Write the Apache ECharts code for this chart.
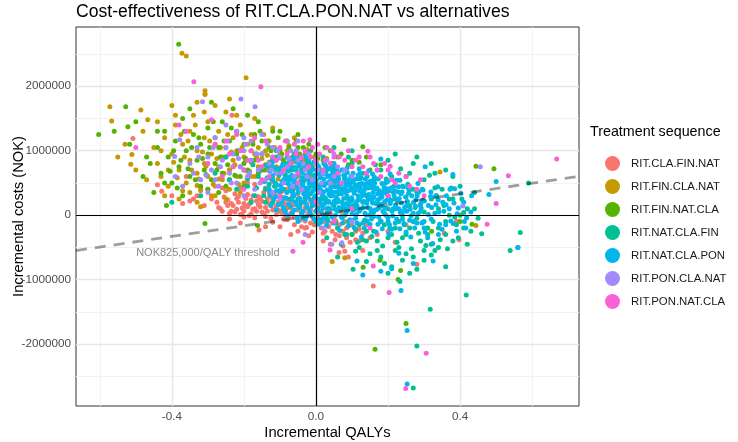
<!DOCTYPE html>
<html><head><meta charset="utf-8">
<script src="https://cdn.jsdelivr.net/npm/echarts@6/dist/echarts.min.js"></script>
<style>html,body{margin:0;padding:0;background:#fff}#c{width:738px;height:442px}</style>
</head><body><div id="c"></div>
<script>
// ---- data (x = incremental QALYs, y = incremental costs in thousand NOK) ----
const seriesNames = ['RIT.CLA.FIN.NAT','RIT.FIN.CLA.NAT','RIT.FIN.NAT.CLA','RIT.NAT.CLA.FIN','RIT.NAT.CLA.PON','RIT.PON.CLA.NAT','RIT.PON.NAT.CLA'];
const seriesColors = ['#F8766D','#C49A00','#53B400','#00C094','#00B6EB','#A58AFF','#FB61D7'];

const ptsCLAFINNAT = [[-0.27,120],[-0.26,60],[-0.25,200],[-0.24,30],[-0.23,150],[-0.22,90],[-0.22,260],[-0.21,10],[-0.2,180],[-0.2,70],[-0.19,320],[-0.19,130],[-0.18,20],[-0.18,230],[-0.17,100],[-0.17,-40],[-0.16,160],[-0.16,290],[-0.15,50],[-0.15,210],[-0.14,120],[-0.14,-20],[-0.13,360],[-0.13,180],[-0.12,80],[-0.12,250],[-0.11,10],[-0.11,140],[-0.1,300],[-0.1,60],[-0.09,200],[-0.09,-60],[-0.08,110],[-0.08,400],[-0.07,30],[-0.07,240],[-0.06,160],[-0.06,-30],[-0.05,80],[-0.05,330],[-0.04,0],[-0.04,190],[-0.03,120],[-0.03,-90],[-0.02,50],[-0.02,260],[-0.01,-20],[-0.01,150],[0,70],[0,-120],[0.01,20],[0.01,200],[0.02,-60],[0.03,100],[0.03,-150],[0.04,30],[0.05,-40],[0.06,-200],[0.07,60],[0.08,-100],
[-0.3,400],[-0.28,450],[-0.25,380],[-0.21,430],[-0.17,480],[-0.14,420],[-0.11,460],[-0.06,420],[-0.33,300],[-0.35,220],[-0.31,150],[-0.29,250],
[-0.2,-30],[-0.158,-230],[-0.12,-110],[-0.1,-180],[-0.08,-70],[-0.06,-150],[-0.05,-250],[-0.03,-200],[-0.026,-190],[0.02,-280],[0.053,-380],[0.075,-480],[0.08,-560],[0.064,-580],[0.1,-300],[0.12,-220],[0.14,-150],[0.15,-350],[0.18,-100],[0.2,-250],[0.28,-760],[0.159,-1100],[0.356,-280],[0.397,-380],[0.39,-90],
[-0.508,1190],[-0.44,470],[-0.428,370],[-0.308,1870],[-0.233,1550],[-0.36,600],[-0.4,300],[-0.24,700],[-0.18,600],
[-0.275,200],[-0.265,100],[-0.255,280],[-0.245,150],[-0.235,60],[-0.225,330],[-0.215,200],[-0.205,110],[-0.195,260],[-0.185,-10],[-0.185,170],[-0.175,300],[-0.165,60],[-0.165,220],[-0.155,130],[-0.145,350],[-0.145,20],[-0.135,250],[-0.125,150],[-0.125,-50],[-0.115,320],[-0.115,90],[-0.105,200],[-0.095,40],[-0.095,370],[-0.085,160],[-0.085,270],[-0.075,-20],[-0.075,120],[-0.065,300],[-0.065,60],[-0.055,200],[-0.045,-80],[-0.045,260],[-0.035,60],[-0.035,380],[-0.025,170],[-0.015,-120],[-0.015,90],[-0.005,250],[0.005,-50],[0.005,130],[0.015,-200],[0.015,60],[0.025,-100],[0.035,20],[0.045,-250],[0.055,-90],[0.065,-320],[0.085,-200],[0.095,-420],[0.11,-380],[0.13,-280],[0.17,-300],[0.22,-420],[0.25,-150],[-0.32,380],[-0.34,250],[-0.37,180],[-0.26,420],[-0.19,500],[-0.12,520],[-0.24,-60],[-0.21,-120],[-0.14,-180],[-0.07,-300],[-0.02,-320],[0.04,-450],[0.09,-650],[0.13,-550],
[-0.245,240],[-0.235,180],[-0.225,50],[-0.215,290],[-0.205,10],[-0.195,140],[-0.175,90],[-0.155,260],[-0.135,60],[-0.125,290],[-0.105,80],[-0.095,170],[-0.085,0],[-0.075,220],[-0.065,170],[-0.055,-40],[-0.045,120],[-0.035,200],[-0.025,-10],[-0.015,240],[-0.005,-150],[0.005,40],[0.015,-90],[0.025,-250],[0.035,-180],[0.045,-120],[0.055,-300],[0.065,-150],[0.075,-250],[0.085,-350],[0.1,-150],[0.11,-250],[0.12,-400],[-0.04,-180],[-0.01,-260],[0.02,-400]];

const ptsFINCLANAT = [[-0.372,2510],[-0.36,2470],[-0.194,2130],[-0.308,1930],[-0.308,1880],[-0.572,1680],[-0.486,1630],[-0.567,1460],[-0.467,1480],[-0.511,940],[-0.514,790],[-0.33,200],[-0.32,130],[0.045,-720],[0.08,-660],[0.296,-110],[0.444,-160],[0.344,670],
[-0.45,1050],[-0.44,800],[-0.43,600],[-0.42,1200],[-0.41,450],[-0.4,950],[-0.39,1400],[-0.38,700],[-0.37,1100],[-0.36,500],[-0.35,850],[-0.35,1300],[-0.34,1550],[-0.33,650],[-0.33,1000],[-0.32,400],[-0.31,1200],[-0.31,800],[-0.3,600],[-0.3,1450],[-0.29,950],[-0.28,300],[-0.28,1100],[-0.27,750],[-0.27,1300],[-0.26,550],[-0.26,900],[-0.25,1600],[-0.25,1050],[-0.24,700],[-0.24,400],[-0.23,1200],[-0.23,850],[-0.22,1000],[-0.22,600],[-0.21,1400],[-0.21,750],[-0.2,900],[-0.2,500],[-0.19,1100],[-0.19,680],[-0.18,820],[-0.18,1250],[-0.17,950],[-0.17,600],[-0.16,750],[-0.16,1050],[-0.15,880],[-0.15,520],[-0.14,1000],[-0.14,700],[-0.13,820],[-0.13,1150],[-0.12,600],[-0.12,900],[-0.11,750],[-0.1,950],[-0.1,650],[-0.09,800],[-0.08,1000],[-0.07,700],[-0.06,880],[-0.05,600],[-0.04,780],[-0.03,950],[-0.02,700],[-0.01,520],[0,820],[0.02,650],[0.05,500],[-0.35,350],[-0.42,300],[-0.47,550],[-0.5,700],[-0.53,1100],[-0.55,900],[-0.29,300],[-0.38,250],[-0.25,250],[-0.4,1700],[-0.28,1700],[-0.24,1800],[-0.17,1500],[-0.12,1350],[-0.06,1200],[-0.33,1750],[-0.48,1300],[-0.44,1450],
[-0.395,820],[-0.385,580],[-0.375,1250],[-0.365,900],[-0.355,1150],[-0.345,700],[-0.335,1400],[-0.325,560],[-0.315,980],[-0.305,760],[-0.295,1150],[-0.285,480],[-0.275,880],[-0.265,1050],[-0.255,650],[-0.245,1250],[-0.235,980],[-0.225,780],[-0.215,480],[-0.205,1050],[-0.195,850],[-0.185,620],[-0.175,1150],[-0.165,900],[-0.155,700],[-0.145,1250],[-0.135,930],[-0.125,760],[-0.115,1050],[-0.105,560],[-0.095,880],[-0.085,700],[-0.075,1080],[-0.065,820],[-0.055,980],[-0.045,650],[-0.035,860],[-0.025,1020],[-0.015,620],[-0.005,900],[0.01,720],[0.03,880],[-0.41,700],[-0.37,380],[-0.33,460],[-0.27,560],[-0.21,350],[-0.43,1000],[-0.39,1550],[-0.31,1600],[-0.22,1550]];

const ptsFINNATCLA = [[-0.381,2650],[-0.528,1680],[-0.603,1250],[-0.522,1370],[-0.517,1100],[-0.415,150],[-0.308,-130],[-0.162,-160],[0.078,1170],[0.13,1060],[0.444,760],[0.494,720],[0.25,-1680],[0.164,-2080],[0.228,-1000],[0.235,-860],[0.178,-700],[0.131,-810],[0.321,-250],[0.433,-140],[0.4,-100],
[-0.46,800],[-0.44,1050],[-0.43,650],[-0.42,1300],[-0.41,900],[-0.4,500],[-0.39,1150],[-0.38,750],[-0.37,1500],[-0.36,1000],[-0.35,600],[-0.34,1250],[-0.33,850],[-0.32,450],[-0.32,1100],[-0.31,700],[-0.3,1350],[-0.3,950],[-0.29,550],[-0.28,1200],[-0.28,800],[-0.27,1050],[-0.26,650],[-0.26,1450],[-0.25,900],[-0.24,1150],[-0.24,550],[-0.23,750],[-0.22,1300],[-0.22,950],[-0.21,600],[-0.2,1100],[-0.2,800],[-0.19,1550],[-0.19,700],[-0.18,1000],[-0.17,850],[-0.17,1250],[-0.16,650],[-0.15,950],[-0.15,1150],[-0.14,780],[-0.13,1050],[-0.12,880],[-0.12,1300],[-0.11,700],[-0.1,1000],[-0.09,850],[-0.08,1150],[-0.07,750],[-0.06,950],[-0.05,1050],[-0.04,800],[-0.03,900],[-0.02,1100],[-0.01,750],[0,950],[0.02,850],[0.04,1000],[0.06,900],[0.09,780],[0.12,820],[0.15,700],[-0.5,1450],[-0.48,600],[-0.45,350],[-0.37,300],[-0.27,350],[-0.35,1650],[-0.29,1750],[-0.23,1650],[-0.16,1450],[-0.1,1300],[-0.05,1250],[-0.56,1300],[-0.2,450],[-0.08,550],[0.05,650],
[-0.405,680],[-0.395,1000],[-0.385,420],[-0.375,850],[-0.365,1300],[-0.355,720],[-0.345,1050],[-0.335,550],[-0.325,1200],[-0.315,880],[-0.305,630],[-0.295,1050],[-0.285,1450],[-0.275,700],[-0.265,900],[-0.255,1150],[-0.245,780],[-0.235,1350],[-0.225,620],[-0.215,1000],[-0.205,1250],[-0.195,880],[-0.185,680],[-0.175,1100],[-0.165,950],[-0.155,1300],[-0.145,700],[-0.135,1150],[-0.125,1000],[-0.115,850],[-0.105,1200],[-0.095,950],[-0.085,780],[-0.075,1050],[-0.065,900],[-0.055,1150],[-0.045,950],[-0.035,1050],[-0.025,850],[-0.015,1000],[0.005,880],[0.025,1050],[0.045,800],[0.07,950],[0.1,850],[0.14,900],[0.18,780],[-0.44,1300],[-0.47,900],[-0.42,500],[-0.3,400],[-0.25,450]];

const ptsNATCLAFIN = [[0.28,-2030],[0.27,-2680],[0.317,-1460],[0.417,-1240],[0.539,-550],[0.567,-270],[0.59,500],[0.233,-1030],[0.103,-840],[0.2,-900],[0.28,-840],[0.46,-290],[0.42,-450],[0.44,100],[0.41,40],[-0.4,200],[-0.32,300],[-0.28,650],[-0.25,900],
[-0.2,700],[-0.19,450],[-0.18,850],[-0.17,300],[-0.16,600],[-0.15,950],[-0.14,400],[-0.13,750],[-0.12,200],[-0.12,550],[-0.11,900],[-0.1,350],[-0.1,650],[-0.09,100],[-0.08,500],[-0.08,800],[-0.07,250],[-0.06,600],[-0.06,950],[-0.05,400],[-0.04,0],[-0.04,700],[-0.03,300],[-0.02,550],[-0.02,850],[-0.01,150],[0,450],[0,-100],[0.01,650],[0.02,250],[0.02,900],[0.03,-50],[0.04,500],[0.05,150],[0.05,750],[0.06,-200],[0.07,400],[0.08,0],[0.08,600],[0.09,250],[0.1,-300],[0.1,800],[0.11,100],[0.12,450],[0.12,-150],[0.13,650],[0.14,-400],[0.14,300],[0.15,0],[0.16,550],[0.16,-250],[0.17,200],[0.18,700],[0.18,-100],[0.19,400],[0.2,-350],[0.2,100],[0.21,600],[0.22,-200],[0.22,250],[0.23,-500],[0.24,0],[0.24,450],[0.25,-300],[0.26,150],[0.26,650],[0.27,-100],[0.28,350],[0.29,-400],[0.3,50],[0.3,550],[0.31,-200],[0.32,250],[0.33,-550],[0.34,100],[0.35,400],[0.36,-300],[0.37,0],[0.38,250],[0.39,-150],[0.4,450],[0.42,100],[0.45,-50],[0.36,700],[0.32,800],[0.28,900],[0.22,950],[0.15,-600],[0.18,-650],[0.25,-600],[0.12,-500],[0.07,-450],[0.03,-350],[0.21,-800],[0.3,-700],[-0.22,400],[-0.24,550],[-0.18,200],[0.1,1000],[0.05,1050],
[-0.19,560],[-0.175,780],[-0.165,420],[-0.155,690],[-0.145,300],[-0.135,580],[-0.125,830],[-0.115,450],[-0.105,720],[-0.095,250],[-0.085,620],[-0.075,880],[-0.065,380],[-0.055,700],[-0.045,150],[-0.035,520],[-0.025,800],[-0.015,330],[-0.005,620],[0.005,100],[0.015,470],[0.025,780],[0.035,200],[0.045,620],[0.055,-120],[0.065,330],[0.075,700],[0.085,-300],[0.095,500],[0.105,150],[0.115,-420],[0.125,580],[0.135,-80],[0.145,420],[0.155,-330],[0.165,780],[0.175,120],[0.185,-480],[0.195,560],[0.205,-200],[0.215,350],[0.225,-420],[0.235,720],[0.245,-150],[0.255,480],[0.265,-520],[0.275,120],[0.285,-280],[0.295,400],[0.305,-470],[0.315,620],[0.325,-100],[0.335,300],[0.345,-380],[0.355,150],[0.365,-520],[0.375,420],[0.385,-30],[0.395,-350],[0.405,250],[0.43,-250],[0.44,350],[0.38,600],[0.33,650],[0.27,800],[0.2,850],[0.09,900],[-0.02,980],[-0.11,1000],[0.06,-650],[0.14,-720],[0.24,-700],[0.32,-620],[0.11,-560],[0.26,-900],[0.36,-800],
[-0.14,200],[-0.13,480],[-0.09,400],[-0.07,700],[-0.05,250],[-0.03,600],[-0.01,450],[0.01,250],[0.03,700],[0.04,300],[0.06,550],[0.07,100],[0.09,-100],[0.1,420],[0.11,-220],[0.13,200],[0.14,-250],[0.15,520],[0.16,50],[0.17,-400],[0.19,-150],[0.2,300],[0.21,-300],[0.22,100],[0.23,-100],[0.24,-350],[0.25,280],[0.26,-200],[0.27,400],[0.28,-50],[0.29,150],[0.31,-300],[0.32,-450],[0.33,420],[0.34,-200],[0.36,-100],[0.37,250],[0.38,-400],[0.4,0],[0.41,-200],[0.3,-550],[0.27,-650],[0.22,-550],[0.17,-550],[0.13,-380],[0.08,-300],[0.19,-750],[0.34,-500]];

const ptsNATCLAPON = [[-0.142,520],[-0.137,760],[-0.128,310],[-0.121,610],[-0.116,840],[-0.104,160],[-0.098,460],[-0.093,700],[-0.085,60],[-0.081,350],[-0.077,590],[-0.072,860],[-0.066,240],[-0.061,510],[-0.057,740],[-0.052,-40],[-0.046,110],[-0.043,400],[-0.038,660],[-0.034,910],[-0.027,-20],[-0.023,290],[-0.018,540],[-0.014,790],[-0.006,160],[-0.002,410],[0.004,640],[0.007,-140],[0.013,60],[0.018,310],[0.022,560],[0.027,760],[0.033,-90],[0.036,210],[0.041,440],[0.046,690],[0.053,90],[0.057,360],[0.062,610],[0.066,-240],[0.073,-40],[0.077,260],[0.082,500],[0.087,740],[0.093,150],[0.097,390],[0.103,650],[0.106,-190],[0.112,10],[0.117,300],[0.122,560],[0.126,-340],[0.133,210],[0.137,440],[0.142,-90],[0.146,690],[0.153,40],[0.158,350],[0.162,590],[0.167,-260],[0.172,-140],[0.177,260],[0.183,490],[0.192,110],[0.196,410],[0.202,-290],[0.206,640],[0.213,-10],[0.217,300],[0.223,540],[0.233,-210],[0.237,190],[0.243,440],[0.252,60],[0.257,340],[0.263,-340],[0.272,-90],[0.277,240],[0.283,490],[0.292,110],[0.297,390],[0.303,-260],[0.312,10],[0.318,290],[0.324,-440],[0.333,160],[0.338,440],[0.343,-140],[0.355,60],[0.362,300],[0.374,-90],[0.383,190],[0.395,110],[0.402,340],[0.418,-40],
[0.008,350],[0.015,470],[0.024,180],[0.031,390],[0.038,520],[0.044,300],[0.051,440],[0.058,200],[0.064,480],[0.071,330],[0.079,420],[0.084,180],[0.091,550],[0.099,270],[0.108,470],[0.114,140],[0.121,380],[0.128,490],[0.135,320],[0.144,240],[0.151,460],[0.157,190],[0.164,400],[0.171,330],[0.181,170],[0.188,350],[0.198,240],[0.208,420],[0.221,130],[0.229,360],[-0.01,560],[-0.02,420],[-0.03,200],[-0.05,350],[-0.07,430],[-0.09,270],[-0.11,380],[0.0,700],[0.05,800],[0.12,720],[0.17,700],[0.25,600],[0.1,-80],[0.02,-50],[0.2,-100],[0.3,-100],
[0.253,-2620],[0.253,-1790],[0.236,-1170],[0.13,-930],[0.18,-870],[0.21,-830],[0.325,-710],[0.27,-750],[0.114,-710],[0.23,-590],[0.56,-500],[0.416,-200],[0.381,-130],[0.303,750],[0.38,630],[0.18,870],[0.5,520],[0.48,320],[0.385,410],[-0.036,-50],[-0.08,900],[0.561,-500],
[-0.131,420],[-0.128,680],[-0.117,250],[-0.113,500],[-0.114,730],[-0.106,380],[-0.103,620],[-0.107,880],[-0.091,120],[-0.088,560],[-0.092,790],[-0.076,170],[-0.074,470],[-0.078,680],[-0.073,800],[-0.066,30],[-0.064,330],[-0.067,620],[-0.063,880],[-0.056,200],[-0.054,450],[-0.057,600],[-0.053,820],[-0.046,260],[-0.044,520],[-0.047,760],[-0.036,60],[-0.034,330],[-0.037,480],[-0.033,720],[-0.026,130],[-0.024,380],[-0.027,620],[-0.023,870],[-0.016,40],[-0.014,230],[-0.017,460],[-0.013,690],[-0.006,-60],[-0.004,280],[-0.007,510],[-0.003,600],[-0.005,830],[0.004,90],[0.006,240],[0.003,470],[0.007,760],[0.014,-110],[0.016,150],[0.013,390],[0.017,640],[0.024,0],[0.026,270],[0.023,460],[0.027,680],[0.034,110],[0.036,330],[0.033,600],[0.037,720],[0.044,-30],[0.046,170],[0.043,540],[0.047,650],[0.054,0],[0.056,280],[0.053,520],[0.057,700],[0.064,120],[0.066,400],[0.063,560],[0.074,-120],[0.076,160],[0.073,380],[0.077,620],[0.084,40],[0.086,300],[0.083,450],[0.087,660],[0.094,-70],[0.096,210],[0.093,460],[0.097,600],[0.104,80],[0.106,340],[0.103,520],[0.114,-120],[0.116,230],[0.113,450],[0.117,620],[0.124,90],[0.126,290],[0.123,420],[0.134,-200],[0.136,30],[0.133,380],[0.137,560],[0.144,120],[0.146,320],[0.143,500],[0.154,-60],[0.156,240],[0.153,430],[0.157,640],[0.164,80],[0.166,180],[0.163,500],[0.174,-30],[0.176,380],[0.173,560],[0.184,-210],[0.186,60],[0.183,280],[0.194,0],[0.196,330],[0.193,500],[0.204,-150],[0.206,180],[0.203,380],[0.214,100],[0.216,450],[0.224,-60],[0.226,240],[0.234,40],[0.236,330],[0.233,540],[0.244,-130],[0.246,120],[0.254,210],[0.256,420],[0.264,-10],[0.266,300],[0.274,-200],[0.276,140],[0.284,30],[0.286,360],[0.294,-120],[0.296,230],[0.31,-350],[0.312,150],[0.33,30],[0.332,300],[0.35,-220],[0.352,200],[0.37,100],[0.372,400],[0.39,-250],[0.392,20],[0.41,200],[0.412,-100],[0.43,50],[0.432,300],
[-0.125,150],[-0.126,370],[-0.124,560],[-0.123,790],[-0.11,80],[-0.111,290],[-0.109,470],[-0.112,660],[-0.095,200],[-0.096,400],[-0.094,520],[-0.097,740],[-0.08,0],[-0.081,260],[-0.079,520],[-0.082,720],[-0.07,130],[-0.071,380],[-0.069,550],[-0.068,760],[-0.06,80],[-0.061,300],[-0.059,560],[-0.058,700],[-0.05,-100],[-0.051,150],[-0.049,400],[-0.048,640],[-0.052,890],[-0.04,30],[-0.041,200],[-0.039,460],[-0.038,580],[-0.042,820],[-0.03,-60],[-0.031,260],[-0.029,420],[-0.028,560],[-0.032,780],[-0.02,100],[-0.021,330],[-0.019,500],[-0.018,650],[-0.022,930],[-0.01,-10],[-0.011,190],[-0.009,370],[-0.012,720],[0.0,60],[-0.001,300],[0.001,540],[0.002,800],[0.01,-60],[0.011,200],[0.009,420],[0.012,580],[0.008,700],[0.02,110],[0.021,360],[0.019,500],[0.022,800],[0.03,-160],[0.031,40],[0.029,230],[0.032,500],[0.028,640],[0.04,90],[0.041,380],[0.039,610],[0.042,740],[0.05,-120],[0.051,220],[0.049,350],[0.052,580],[0.06,60],[0.061,240],[0.059,440],[0.062,660],[0.07,-20],[0.071,200],[0.069,480],[0.072,700],[0.08,110],[0.081,350],[0.079,560],[0.09,-170],[0.091,90],[0.089,380],[0.092,520],[0.1,20],[0.101,230],[0.099,580],[0.11,-50],[0.111,180],[0.109,390],[0.112,560],[0.12,60],[0.121,240],[0.119,480],[0.122,650],[0.13,-120],[0.131,120],[0.129,330],[0.132,480],[0.14,0],[0.141,190],[0.139,420],[0.142,600],[0.15,-140],[0.151,100],[0.149,290],[0.152,520],[0.16,-20],[0.161,280],[0.159,460],[0.17,90],[0.171,230],[0.169,420],[0.18,-90],[0.181,140],[0.179,330],[0.19,30],[0.191,210],[0.189,430],[0.2,-40],[0.201,280],[0.199,520],[0.21,-220],[0.211,60],[0.209,230],[0.22,-120],[0.221,160],[0.219,380],[0.23,100],[0.231,260],[0.229,440],[0.24,-60],[0.241,60],[0.239,360],[0.25,-260],[0.251,140],[0.249,280],[0.26,-80],[0.261,90],[0.259,380],[0.27,30],[0.271,200],[0.28,-120],[0.281,300],[0.29,60],[0.291,180],[0.3,-200],[0.301,220],[0.32,-60],[0.321,120],[0.319,360],[0.34,-300],[0.341,50],[0.339,240],[0.36,-150],[0.361,160]];

const ptsPONCLANAT = [[-0.208,1800],[-0.315,1760],[-0.169,1680],[-0.378,1170],[-0.392,910],[-0.39,600],[0.456,750],[0.044,-450],[0.072,-430],[0.408,140],
[-0.35,800],[-0.33,1050],[-0.32,550],[-0.3,900],[-0.29,700],[-0.28,1200],[-0.27,450],[-0.26,850],[-0.25,1050],[-0.24,650],[-0.23,950],[-0.22,500],[-0.22,1300],[-0.21,750],[-0.2,1000],[-0.19,600],[-0.18,850],[-0.18,1150],[-0.17,400],[-0.16,700],[-0.15,950],[-0.14,550],[-0.13,800],[-0.12,1050],[-0.12,350],[-0.11,650],[-0.1,900],[-0.09,500],[-0.08,750],[-0.07,1000],[-0.06,600],[-0.05,850],[-0.04,400],[-0.03,700],[-0.02,950],[-0.01,550],[0,800],[0.01,350],[0.02,650],[0.04,500],[0.06,750],[0.1,600],[-0.3,350],[-0.37,450],[-0.2,300],[-0.1,250],[-0.25,1400],[-0.15,1250],[-0.05,1150],[0.05,950],[0.1,-100],[0.02,-200],[-0.03,-300],
[-0.325,900],[-0.305,620],[-0.285,1050],[-0.265,750],[-0.245,1150],[-0.235,500],[-0.215,880],[-0.195,1100],[-0.185,650],[-0.165,950],[-0.155,500],[-0.135,1100],[-0.125,700],[-0.105,1000],[-0.095,650],[-0.075,880],[-0.065,450],[-0.055,1000],[-0.035,800],[-0.025,600],[-0.015,900],[0.005,700],[0.015,500],[0.03,850],[0.05,600],[0.08,700],[-0.28,550],[-0.2,1200],[-0.34,650],[-0.08,1150]];

const ptsPONNATCLA = [[0.668,870],[0.534,610],[0.5,180],[-0.339,2070],[-0.153,1990],[-0.064,-560],[-0.036,-420],[0.249,-2690],[0.306,-2140],[0.203,-1200],[0.039,-540],[0.159,-790],[0.475,-140],[-0.017,1170],[0.144,990],[0.206,760],[-0.38,1400],[-0.36,1300],[-0.29,1480],[-0.5,1050],
[-0.3,800],[-0.28,1100],[-0.26,600],[-0.24,950],[-0.22,1250],[-0.2,700],[-0.18,1000],[-0.16,850],[-0.14,1150],[-0.13,600],[-0.12,900],[-0.1,1050],[-0.09,700],[-0.08,950],[-0.07,800],[-0.06,1100],[-0.05,650],[-0.04,900],[-0.03,1000],[-0.02,750],[-0.01,1050],[0,850],[0.01,950],[0.02,700],[0.03,1050],[0.04,800],[0.05,900],[0.06,650],[0.08,850],[0.1,750],[0.12,900],[0.14,650],[0.16,800],[0.18,600],[0.2,700],[0.22,500],[0.25,600],[0.28,400],[0.3,300],[0.2,300],[0.1,100],[0,200],[-0.1,300],[-0.2,400],[0.15,-200],[0.05,-100],
[-0.25,1150],[-0.23,750],[-0.21,1000],[-0.19,850],[-0.17,1200],[-0.15,750],[-0.11,850],[-0.085,1150],[-0.055,950],[-0.035,1150],[-0.015,900],[0.005,1100],[0.025,850],[0.045,1000],[0.065,900],[0.09,1000],[0.11,850],[0.13,750],[0.15,900],[0.17,700],[0.19,800],[0.21,550],[0.23,650],[0.26,450],[0.29,550],[0.07,500],[-0.05,500],[-0.15,550]];

const seriesPoints = [ptsCLAFINNAT, ptsFINCLANAT, ptsFINNATCLA, ptsNATCLAFIN, ptsNATCLAPON, ptsPONCLANAT, ptsPONNATCLA];

const xTickValues = [-0.4, 0, 0.4];
const xTickLabels = ['-0.4', '0.0', '0.4'];
const xMinorValues = [-0.6, -0.2, 0.2, 0.6];
const yTickValues = [-2000000, -1000000, 0, 1000000, 2000000];
const yTickLabels = ['-2000000', '-1000000', '0', '1000000', '2000000'];
const yMinorValues = [-2500000, -1500000, -500000, 500000, 1500000, 2500000];
const wtpThreshold = 825000;
const thresholdLabel = 'NOK825,000/QALY threshold';
const thresholdLabelPos = [-0.3, -590000];
const xLim = [-0.666, 0.730];
const yLim = [-2960000, 2918000];

// ---- chart ----
const FONT = '"Liberation Sans", Arial, sans-serif';
const chart = echarts.init(document.getElementById('c'), null, {renderer: 'canvas'});

const gridLineData = []
  .concat(xMinorValues.map(v => ({xAxis: v, lineStyle: {color: '#f2f2f2', width: 1, type: 'solid'}})))
  .concat(yMinorValues.map(v => ({yAxis: v, lineStyle: {color: '#f2f2f2', width: 1, type: 'solid'}})))
  .concat(xTickValues.map(v => ({xAxis: v, lineStyle: {color: '#e6e6e6', width: 1.4, type: 'solid'}})))
  .concat(yTickValues.map(v => ({yAxis: v, lineStyle: {color: '#e6e6e6', width: 1.4, type: 'solid'}})));

const series = [{
  type: 'scatter', data: [], silent: true, z: 1,
  markLine: {z: 1, silent: true, animation: false, symbol: ['none', 'none'], label: {show: false}, data: gridLineData}
}];

seriesNames.forEach((name, i) => {
  series.push({
    name: name, type: 'scatter', z: 2,
    symbolSize: 5,
    itemStyle: {color: seriesColors[i], opacity: 1},
    data: seriesPoints[i].map(p => [p[0], p[1] * 1000]),
    emphasis: {disabled: true},
    animation: false
  });
});

series.push({
  type: 'scatter', data: [], silent: true, z: 5,
  markLine: {
    z: 6, silent: true, animation: false, symbol: ['none', 'none'], label: {show: false},
    data: [
      {xAxis: 0, lineStyle: {color: '#000', width: 1.2, type: 'solid'}},
      {yAxis: 0, lineStyle: {color: '#000', width: 1.2, type: 'solid'}},
      [{coord: [xLim[0], wtpThreshold * xLim[0]], lineStyle: {color: 'rgba(0,0,0,0.38)', width: 2.8, type: [11, 8]}},
       {coord: [xLim[1], wtpThreshold * xLim[1]]}]
    ]
  }
});

series.push({
  type: 'scatter', silent: true, z: 7, symbolSize: 1,
  data: [thresholdLabelPos],
  label: {show: true, position: 'inside', formatter: thresholdLabel, color: '#6b6b6b', fontSize: 11, fontFamily: FONT},
  itemStyle: {color: 'rgba(0,0,0,0)'}
});

chart.setOption({
  animation: false,
  backgroundColor: '#fff',
  title: [
    {text: 'Cost-effectiveness of RIT.CLA.PON.NAT vs alternatives', left: 71, top: -2,
     textStyle: {fontFamily: FONT, fontSize: 17.6, fontWeight: 'normal', color: '#000'}},
    {text: 'Treatment sequence', left: 585, top: 120,
     textStyle: {fontFamily: FONT, fontSize: 14.3, fontWeight: 'normal', color: '#000'}}
  ],
  legend: {
    data: seriesNames.map(n => ({name: n, icon: 'circle'})),
    orient: 'vertical', left: 600, top: 151,
    itemWidth: 27, itemHeight: 15, itemGap: 8,
    textStyle: {fontFamily: FONT, fontSize: 11.4, color: '#1a1a1a'},
    selectedMode: false
  },
  grid: {left: 76, top: 27, width: 503, height: 379, show: true, borderColor: '#333', borderWidth: 1, backgroundColor: '#fff', outerBoundsMode: 'none', containLabel: false},
  xAxis: {
    type: 'value', min: xLim[0], max: xLim[1],
    name: 'Incremental QALYs', nameLocation: 'middle', nameGap: 19, nameMoveOverlap: false,
    nameTextStyle: {fontFamily: FONT, fontSize: 14.7, color: '#000'},
    axisLine: {show: false},
    axisTick: {show: true, length: 3, lineStyle: {color: '#333'}, customValues: xTickValues},
    axisLabel: {customValues: xTickValues, margin: 5, fontFamily: FONT, fontSize: 11.7, color: '#4d4d4d',
      formatter: v => { const k = xTickValues.findIndex(t => Math.abs(t - v) < 1e-9); return k >= 0 ? xTickLabels[k] : ''; }},
    splitLine: {show: false}
  },
  yAxis: {
    type: 'value', min: yLim[0], max: yLim[1],
    name: 'Incremental costs (NOK)', nameLocation: 'middle', nameGap: 50, nameRotate: 90, nameMoveOverlap: false,
    nameTextStyle: {fontFamily: FONT, fontSize: 14.7, color: '#000'},
    axisLine: {show: false},
    axisTick: {show: true, length: 3, lineStyle: {color: '#333'}, customValues: yTickValues},
    axisLabel: {customValues: yTickValues, margin: 5, fontFamily: FONT, fontSize: 11.7, color: '#4d4d4d',
      formatter: v => { const k = yTickValues.findIndex(t => Math.abs(t - v) < 1e-6); return k >= 0 ? yTickLabels[k] : ''; }},
    splitLine: {show: false}
  },
  series: series
});
</script>
</body></html>
